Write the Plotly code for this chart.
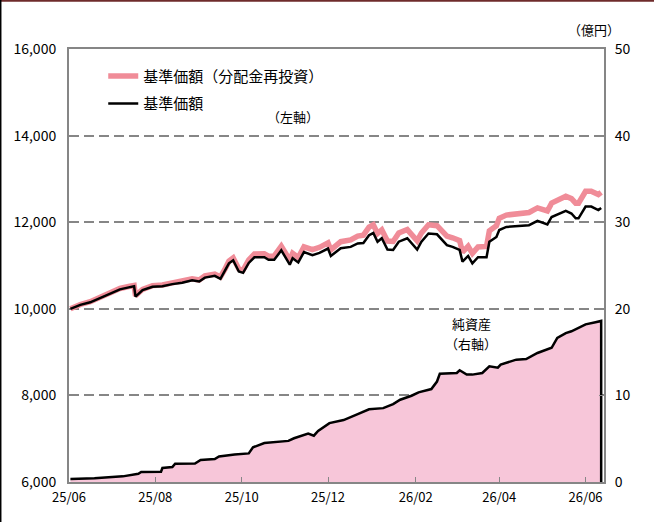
import plotly.graph_objects as go

# ---------------- data ----------------
nav_dates = [
    "2025-06-02", "2025-06-09", "2025-06-16", "2025-06-23", "2025-06-30", "2025-07-07", "2025-07-14",
    "2025-07-17", "2025-07-18", "2025-07-23", "2025-07-30", "2025-08-06", "2025-08-13", "2025-08-20",
    "2025-08-27", "2025-09-01", "2025-09-05", "2025-09-12", "2025-09-16", "2025-09-19", "2025-09-22",
    "2025-09-25", "2025-09-29", "2025-10-02", "2025-10-06", "2025-10-10", "2025-10-17", "2025-10-20",
    "2025-10-24", "2025-10-29", "2025-10-31", "2025-11-04", "2025-11-06", "2025-11-10", "2025-11-14",
    "2025-11-20", "2025-11-25", "2025-12-01", "2025-12-03", "2025-12-10", "2025-12-17", "2025-12-22",
    "2025-12-26", "2025-12-30", "2026-01-02", "2026-01-05", "2026-01-08", "2026-01-12", "2026-01-16",
    "2026-01-20", "2026-01-26", "2026-01-29", "2026-02-02", "2026-02-05", "2026-02-10", "2026-02-16",
    "2026-02-19", "2026-02-23", "2026-02-27", "2026-03-04", "2026-03-06", "2026-03-10", "2026-03-13",
    "2026-03-17", "2026-03-23", "2026-03-25", "2026-03-30", "2026-04-01", "2026-04-06", "2026-04-15",
    "2026-04-22", "2026-04-28", "2026-05-05", "2026-05-08", "2026-05-18", "2026-05-22", "2026-05-25",
    "2026-05-27", "2026-06-01", "2026-06-05", "2026-06-10", "2026-06-12",
]

nav = [
    10000, 10090, 10150, 10250, 10360, 10450, 10500,
    10520, 10280, 10430, 10510, 10520, 10570, 10600,
    10660, 10630, 10720, 10760, 10690, 10860, 11050,
    11120, 10860, 10830, 11060, 11190, 11190, 11130,
    11130, 11350, 11250, 11020, 11170, 11070, 11310,
    11240, 11290, 11390, 11220, 11400, 11430, 11510,
    11520, 11700, 11750, 11550, 11630, 11370, 11360,
    11550, 11630, 11520, 11370, 11550, 11740, 11720,
    11620, 11470, 11430, 11360, 11090, 11220, 11050,
    11190, 11190, 11550, 11660, 11820, 11890, 11910,
    11930, 12030, 11950, 12120, 12260, 12200, 12090,
    12090, 12360, 12360, 12280, 12330,
]

nav_reinvested = [
    10000, 10100, 10165, 10265, 10375, 10470, 10520,
    10540, 10300, 10450, 10535, 10550, 10600, 10635,
    10695, 10665, 10760, 10800, 10735, 10905, 11100,
    11175, 10920, 10895, 11130, 11265, 11270, 11215,
    11220, 11445, 11350, 11125, 11280, 11185, 11430,
    11365, 11420, 11525, 11360, 11550, 11590, 11680,
    11700, 11885, 11940, 11740, 11825, 11565, 11555,
    11750, 11830, 11720, 11570, 11750, 11940, 11920,
    11825, 11680, 11640, 11575, 11310, 11445, 11280,
    11430, 11440, 11800, 11920, 12090, 12165, 12195,
    12225, 12330, 12260, 12440, 12600, 12545, 12440,
    12440, 12715, 12715, 12640, 12690,
]

asset_dates = [
    "2025-06-02", "2025-06-19", "2025-07-09", "2025-07-20", "2025-07-22", "2025-08-05", "2025-08-06",
    "2025-08-13", "2025-08-15", "2025-08-29", "2025-09-02", "2025-09-12", "2025-09-15", "2025-09-26",
    "2025-10-06", "2025-10-09", "2025-10-17", "2025-11-03", "2025-11-07", "2025-11-17", "2025-11-21",
    "2025-11-24", "2025-12-02", "2025-12-12", "2025-12-22", "2025-12-30", "2026-01-09", "2026-01-16",
    "2026-01-21", "2026-01-29", "2026-02-03", "2026-02-12", "2026-02-16", "2026-02-18", "2026-03-02",
    "2026-03-04", "2026-03-09", "2026-03-13", "2026-03-20", "2026-03-25", "2026-03-31", "2026-04-02",
    "2026-04-13", "2026-04-20", "2026-04-28", "2026-05-08", "2026-05-12", "2026-05-18", "2026-05-22",
    "2026-06-01", "2026-06-08", "2026-06-12",
]

net_assets = [
    0.35, 0.42, 0.65, 0.95, 1.15, 1.18, 1.62,
    1.72, 2.12, 2.14, 2.55, 2.66, 2.95, 3.18,
    3.30, 4.00, 4.50, 4.75, 5.05, 5.60, 5.35,
    5.90, 6.80, 7.15, 7.84, 8.40, 8.53, 9.00,
    9.50, 9.96, 10.35, 10.73, 11.60, 12.50, 12.59,
    12.90, 12.40, 12.40, 12.59, 13.36, 13.20, 13.55,
    14.13, 14.20, 14.90, 15.50, 16.64, 17.20, 17.40,
    18.20, 18.45, 18.60,
]

x_tick_dates = ["2025-06-01", "2025-08-01", "2025-10-01", "2025-12-01",
                "2026-02-01", "2026-04-01", "2026-06-01"]
x_tick_labels = ["25/06", "25/08", "25/10", "25/12", "26/02", "26/04", "26/06"]

label_reinvested = "基準価額（分配金再投資）"
label_nav = "基準価額"

# ---------------- figure ----------------
FONT = "Noto Sans CJK JP"
GRAY = "#868686"

fig = go.Figure()

# net assets area (right axis), closed down to zero at the last date
fig.add_trace(go.Scatter(
    x=asset_dates + [asset_dates[-1]],
    y=net_assets + [0],
    yaxis="y2",
    mode="lines",
    line=dict(color="black", width=2.5),
    fill="tozeroy",
    fillcolor="#f7c6d9",
    showlegend=False,
    hoverinfo="skip",
))

fig.add_trace(go.Scatter(
    x=nav_dates, y=nav_reinvested, mode="lines",
    name=label_reinvested, legendgroup="a",
    line=dict(color="#f08c98", width=5.5),
))
fig.add_trace(go.Scatter(
    x=nav_dates, y=nav, mode="lines",
    name=label_nav, legendgroup="b",
    line=dict(color="black", width=2.5),
))

fig.update_layout(
    width=654, height=522,
    margin=dict(l=69, r=50, t=49, b=40),
    paper_bgcolor="white", plot_bgcolor="white",
    font=dict(family=FONT, size=13, color="black"),
    showlegend=True,
    legend=dict(
        x=0.064, y=0.975, xanchor="left", yanchor="top",
        bgcolor="rgba(0,0,0,0)", borderwidth=0,
        font=dict(family=FONT, size=15, color="black"),
        tracegroupgap=5,
        traceorder="grouped",
    ),
    xaxis=dict(
        type="date",
        range=["2025-06-01", "2026-06-14"],
        tickvals=x_tick_dates, ticktext=x_tick_labels,
        ticks="inside", ticklen=5, tickwidth=1, tickcolor=GRAY,
        showline=True, linecolor=GRAY, linewidth=2, mirror=True,
        showgrid=False, zeroline=False,
        tickfont=dict(family=FONT, size=13),
        ticklabelstandoff=2,
    ),
    yaxis=dict(
        range=[6000, 16000], dtick=2000, tickformat=",",
        showline=True, linecolor=GRAY, linewidth=2,
        showgrid=True, gridcolor=GRAY, gridwidth=2, griddash="10px,5px",
        zeroline=False, ticks="",
        tickfont=dict(family=FONT, size=14),
        ticklabelstandoff=8,
    ),
    yaxis2=dict(
        range=[0, 50], dtick=10, overlaying="y", side="right",
        showline=True, linecolor=GRAY, linewidth=2,
        showgrid=False, zeroline=False,
        ticks="inside", ticklen=5, tickcolor=GRAY,
        tickfont=dict(family=FONT, size=14),
        ticklabelstandoff=6,
    ),
    annotations=[
        dict(text="（左軸）", xref="paper", yref="paper", x=0.4187, y=0.843,
             xanchor="center", yanchor="middle", showarrow=False, font=dict(size=13)),
        dict(text="純資産", xref="paper", yref="paper", x=0.752, y=0.366,
             xanchor="center", yanchor="middle", showarrow=False, font=dict(size=13)),
        dict(text="（右軸）", xref="paper", yref="paper", x=0.752, y=0.321,
             xanchor="center", yanchor="middle", showarrow=False, font=dict(size=13)),
        dict(text="（億円）", xref="paper", yref="paper", x=0.981, y=1.046,
             xanchor="center", yanchor="middle", showarrow=False, font=dict(size=13)),
    ],
    shapes=[
        dict(type="line", xref="paper", yref="paper",
             x0=-0.13, x1=1.1, y0=1.1115, y1=1.1115,
             line=dict(color="#6e2b2b", width=2)),
        dict(type="line", xref="paper", yref="paper",
             x0=-0.1281, x1=-0.1281, y0=-0.1, y1=1.115,
             line=dict(color="black", width=2)),
    ],
)

fig.write_html(
    "out.html",
    config={"displayModeBar": False},
    post_script="document.body.style.margin='0';document.body.style.overflow='hidden';",
)
